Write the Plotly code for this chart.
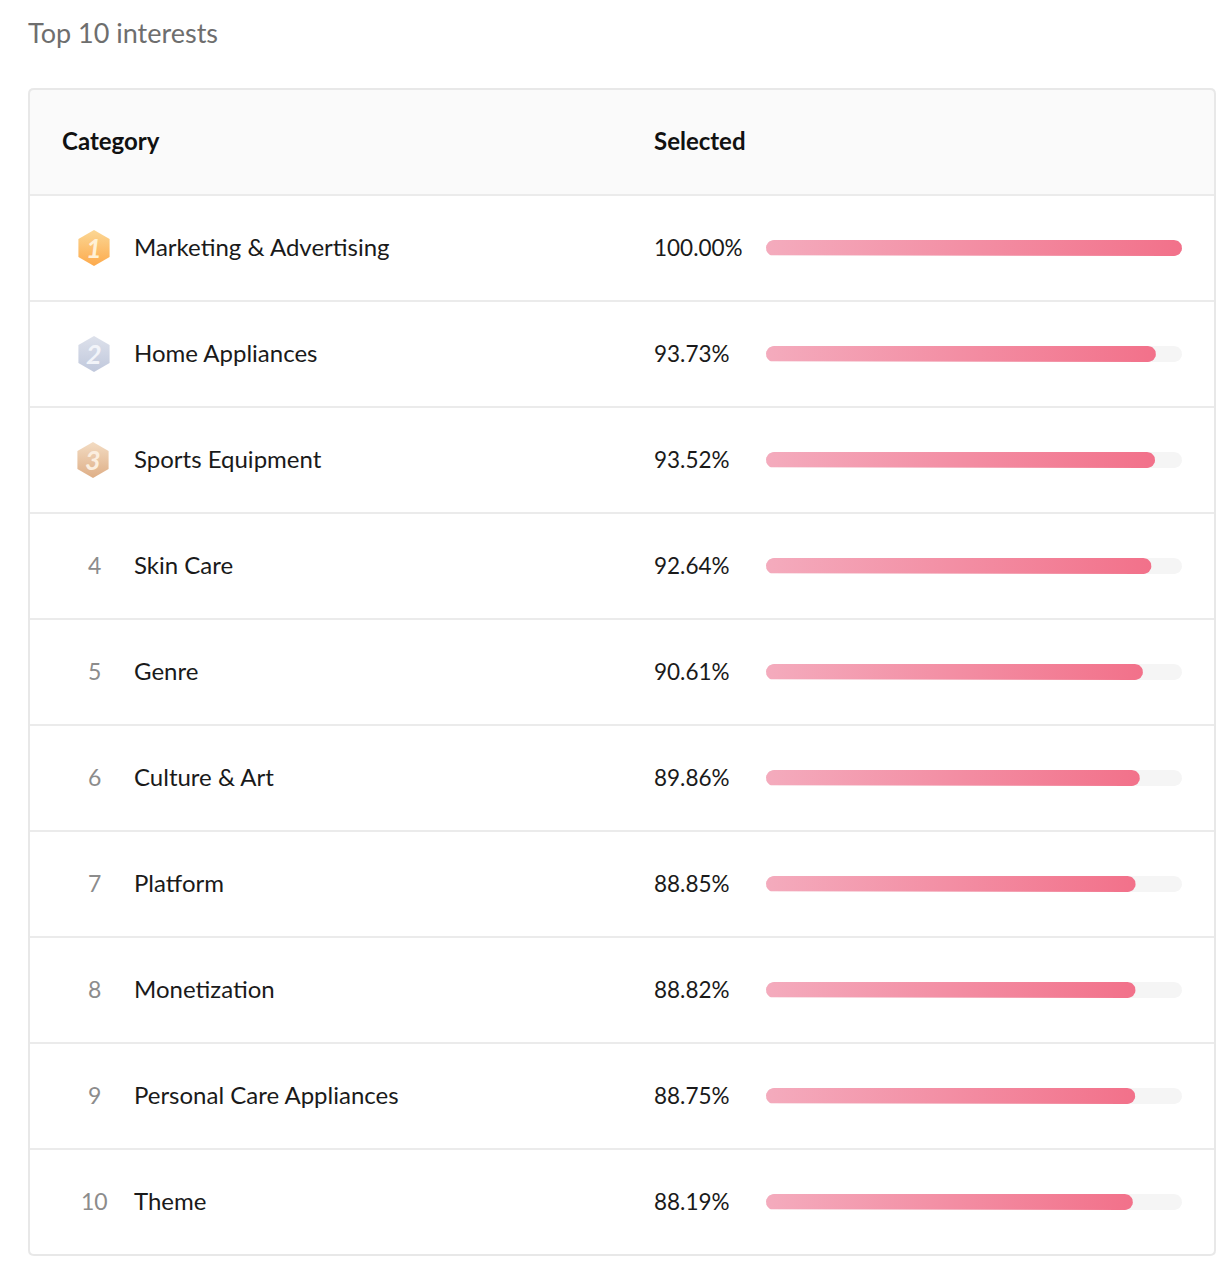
import numpy as np
import plotly.graph_objs as go

# Values
categories = ["Marketing & Advertising", "Home Appliances", "Sports Equipment", "Skin Care", "Genre",
              "Culture & Art", "Platform", "Monetization", "Personal Care Appliances", "Theme"]
selected = [100.00, 93.73, 93.52, 92.64, 90.61, 89.86, 88.85, 88.82, 88.75, 88.19]
ranks = [1, 2, 3, 4, 5, 6, 7, 8, 9, 10]
headers = ["Category", "Selected"]
chart_title = "Top 10 interests"

W = 1232  # page size in pixels
H = 1274
FONT = "Lato"


# Outline of a pill running from 0 to value on the percent axis
def pill(value, row):
    rx = 8 / 416 * 100
    ry = 8 / 106
    t = np.linspace(-np.pi / 2, np.pi / 2, 16)
    x = np.concatenate([value - rx + rx * np.cos(t), rx - rx * np.cos(t)])
    y = np.concatenate([row + ry * np.sin(t), row - ry * np.sin(t)])
    return np.append(x, x[0]), np.append(y, y[0])


# Create a plotly figure
fig = go.Figure()

# Add the grey tracks and the pink bars
for i, value in enumerate(selected):
    row = ranks[i] - 0.5
    x, y = pill(100, row)
    fig.add_trace(go.Scatter(x=x, y=y, mode='lines', fill='toself', fillcolor='#f5f5f5',
                             line=dict(width=0), hoverinfo='skip', showlegend=False))
    x, y = pill(value, row)
    fig.add_trace(go.Scatter(x=x, y=y, mode='lines', fill='toself', line=dict(width=0),
                             fillgradient=dict(type='horizontal', colorscale=[[0, '#f4abbd'], [1, '#f2718a']]),
                             hoverinfo='skip', showlegend=False))

# Add the medals of the first three rows
medal_colors = [('#fdaa4c', '#fbd795'), ('#c0c8dc', '#dde1eb'), ('#deae86', '#f3dcc3')]
for i, (low, high) in enumerate(medal_colors):
    fig.add_trace(go.Scatter(
        x=[94 - i // 2], y=[ranks[i] - 0.5], xaxis='x2', mode='markers',
        marker=dict(symbol='hexagon', size=36, color=high, line=dict(width=0),
                    gradient=dict(type='vertical', color=low)),
        hoverinfo='skip', showlegend=False))

annotations = []


def add_text(text, x, y, size, color, yref='y', anchor='left'):
    if anchor == 'left':
        x = x - 2  # the padding of an annotation
    annotations.append(dict(text=text, x=x / W, y=y, xref='paper', yref=yref, xanchor=anchor, yanchor='middle',
                            showarrow=False, font=dict(family=FONT, size=size, color=color)))


# Title and header of the table
add_text(chart_title, 28, 1 - 32 / H, 27, '#6e6e6e', yref='paper')
add_text("<b>" + headers[0] + "</b>", 62, 1 - 140 / H, 24, '#111111', yref='paper')
add_text("<b>" + headers[1] + "</b>", 654, 1 - 140 / H, 24, '#111111', yref='paper')

# Text of the rows
for i, name in enumerate(categories):
    row = ranks[i] - 0.5 - 2 / 106
    if ranks[i] <= 3:
        add_text("<b><i>%d</i></b>" % ranks[i], 94 - i // 2, row + 1 / 106, 27, ['#fff1d6', '#f2f4f9', '#fbeedf'][i],
                 anchor='center')
    else:
        add_text(str(ranks[i]), 94, row + 1 / 106, 23, '#8c8c8c', anchor='center')
    add_text(name, 134, row, 24, '#1a1a1a')
    add_text("%.2f%%" % selected[i], 654, row + 1 / 106, 22.5, '#1a1a1a')

# Card of the table
left, right, top, bottom = 29 / W, 1215 / W, 1 - 89 / H, 1 - 1255 / H
rx, ry = 5 / W, 5 / H
header_fill = "M %f %f Q %f %f %f %f L %f %f Q %f %f %f %f L %f %f L %f %f Z" % (
    left, top - ry, left, top, left + rx, top, right - rx, top, right, top, right, top - ry,
    right, 1 - 195 / H, left, 1 - 195 / H)
card = "M %f %f Q %f %f %f %f L %f %f Q %f %f %f %f L %f %f Q %f %f %f %f L %f %f Q %f %f %f %f Z" % (
    left, top - ry, left, top, left + rx, top, right - rx, top, right, top, right, top - ry,
    right, bottom + ry, right, bottom, right - rx, bottom, left + rx, bottom, left, bottom, left, bottom + ry)
shapes = [dict(type='path', xref='paper', yref='paper', layer='below', path=header_fill,
               fillcolor='#fafafa', line=dict(width=0)),
          dict(type='path', xref='paper', yref='paper', layer='below', path=card,
               line=dict(color='#e8e8e8', width=2))]
for edge in range(0, 10):
    edge_y = 1 - (195 + 106 * edge) / H
    shapes.append(dict(type='line', xref='paper', yref='paper', layer='below',
                       x0=30 / W, x1=1214 / W, y0=edge_y, y1=edge_y,
                       line=dict(color='#ebebeb', width=2)))

# Customize the layout
fig.update_layout(
    width=W,
    height=H,
    margin=dict(l=0, r=0, t=0, b=0),
    paper_bgcolor='white',
    plot_bgcolor='rgba(0,0,0,0)',
    annotations=annotations,
    shapes=shapes,
    xaxis=dict(domain=[766 / W, 1182 / W], range=[0, 100], visible=False),
    xaxis2=dict(domain=[0, 1], range=[0, W], visible=False),
    yaxis=dict(domain=[1 - 1255 / H, 1 - 195 / H], range=[10, 0], visible=False),
)

# Save the plot to an HTML file
fig.write_html("out.html", config=dict(displayModeBar=False), post_script="document.body.style.margin = '0';")
